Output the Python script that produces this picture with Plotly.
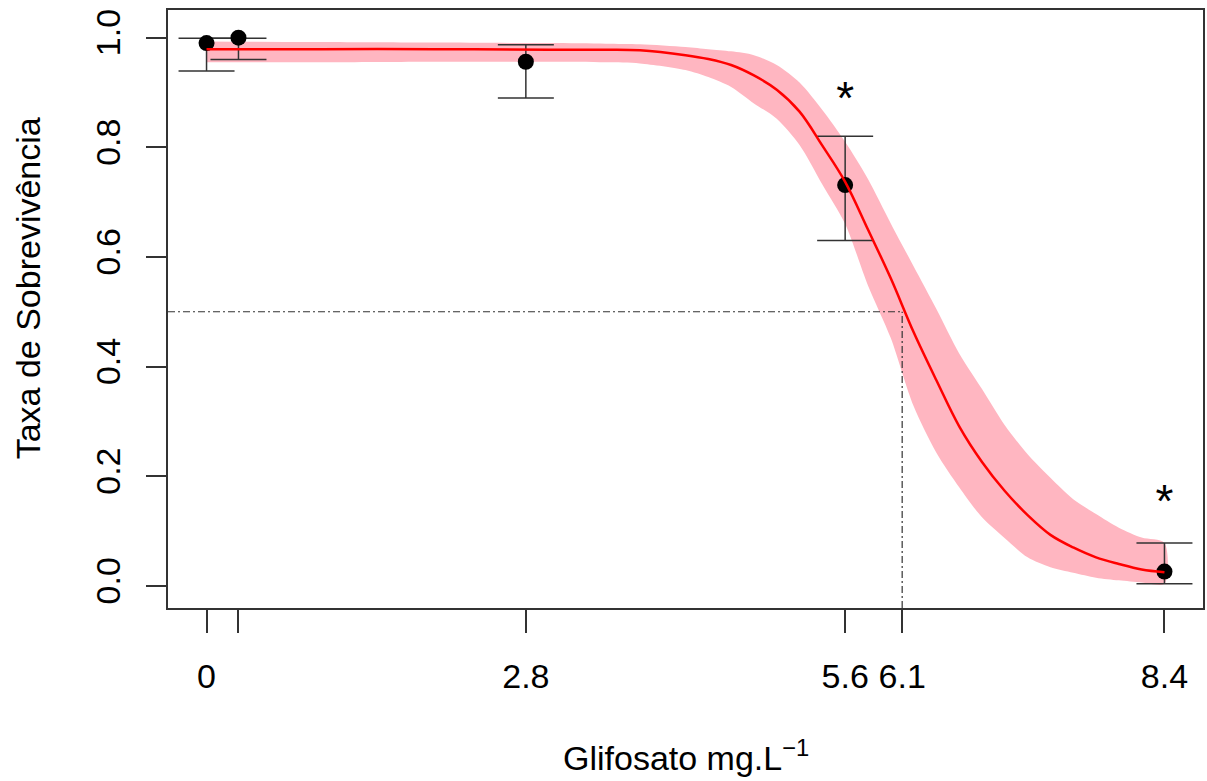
import plotly.graph_objects as go

# Observed data (means with error bars)
dose = [0, 0.28, 2.8, 5.6, 8.4]
survival = [0.990, 1.000, 0.956, 0.731, 0.026]
err_upper = [0.999, 0.999, 0.987, 0.820, 0.078]
err_lower = [0.939, 0.960, 0.890, 0.630, 0.004]

# Fitted curve and confidence band
fit_x = [0, 1, 2, 3, 3.5, 3.8, 4.2, 4.4, 4.6, 4.8, 5.0, 5.2, 5.4, 5.6, 5.8, 6.0,
         6.2, 6.4, 6.6, 6.8, 7.0, 7.2, 7.4, 7.6, 7.8, 8.0, 8.2, 8.4]
fit_y = [0.979, 0.979, 0.979, 0.978, 0.978, 0.977, 0.968, 0.961, 0.950, 0.931, 0.905,
         0.865, 0.803, 0.737, 0.650, 0.561, 0.463, 0.375, 0.291, 0.226, 0.173, 0.129,
         0.093, 0.070, 0.052, 0.040, 0.030, 0.025]
band_upper = [0.993, 0.992, 0.991, 0.990, 0.989, 0.988, 0.983, 0.979, 0.975, 0.968, 0.950,
              0.918, 0.868, 0.810, 0.742, 0.661, 0.583, 0.505, 0.424, 0.359, 0.293, 0.240,
              0.197, 0.158, 0.131, 0.106, 0.088, 0.078]
band_lower = [0.955, 0.955, 0.956, 0.956, 0.955, 0.953, 0.941, 0.928, 0.910, 0.880, 0.852,
              0.804, 0.732, 0.660, 0.548, 0.452, 0.328, 0.243, 0.180, 0.125, 0.087, 0.052,
              0.034, 0.024, 0.015, 0.010, 0.006, 0.004]

# Reference (LC50) and significance marks
lc50_x = 6.1
lc50_y = 0.5
star_x = [5.6, 8.4]
star_y = [0.881, 0.146]

x_tickvals = [0, 0.28, 2.8, 5.6, 6.1, 8.4]
x_ticktext = ["0", "", "2.8", "5.6", "6.1", "8.4"]
y_tickvals = [0, 0.2, 0.4, 0.6, 0.8, 1.0]
y_ticktext = ["0.0", "0.2", "0.4", "0.6", "0.8", "1.0"]

x_range = [-0.338, 8.738]
y_range = [-0.0404, 1.0504]

FONT = "Liberation Sans, Arial, sans-serif"
FS = 34
AX = "#333333"

fig = go.Figure()

fig.add_trace(go.Scatter(
    x=fit_x + fit_x[::-1], y=band_upper + band_lower[::-1],
    fill="toself", fillcolor="#FFB6C1", line=dict(width=0, shape="spline", smoothing=0.8),
    mode="lines", hoverinfo="skip", showlegend=False))

fig.add_trace(go.Scatter(
    x=dose, y=survival, mode="markers",
    marker=dict(color="black", size=16, symbol="circle"),
    error_y=dict(type="data", symmetric=False,
                 array=[u - s for u, s in zip(err_upper, survival)],
                 arrayminus=[s - l for s, l in zip(survival, err_lower)],
                 color=AX, thickness=1.5, width=28),
    showlegend=False))

fig.add_trace(go.Scatter(
    x=fit_x, y=fit_y, mode="lines", line=dict(color="red", width=2.5, shape="spline"),
    showlegend=False))

fig.add_trace(go.Scatter(
    x=star_x, y=star_y, mode="text", text=["*", "*"],
    textfont=dict(family=FONT, size=46, color="black"),
    textposition="middle center", showlegend=False))

dash = "7px,3px,2px,3px"
fig.add_shape(type="line", xref="x", yref="y", x0=x_range[0], x1=lc50_x, y0=lc50_y, y1=lc50_y,
              line=dict(color=AX, width=1.2, dash=dash))
fig.add_shape(type="line", xref="x", yref="y", x0=lc50_x, x1=lc50_x, y0=y_range[0], y1=lc50_y,
              line=dict(color=AX, width=1.2, dash=dash))

fig.update_xaxes(range=x_range, tickvals=x_tickvals, ticktext=x_ticktext,
                 ticks="outside", ticklen=23, tickwidth=1.5, tickcolor=AX,
                 showline=True, linecolor=AX, linewidth=1.5, mirror=True,
                 showgrid=False, zeroline=False, ticklabelstandoff=14,
                 tickfont=dict(family=FONT, size=FS, color="black"))
fig.update_yaxes(range=y_range, tickvals=y_tickvals, ticktext=y_ticktext,
                 ticks="outside", ticklen=20, tickwidth=1.5, tickcolor=AX,
                 showline=True, linecolor=AX, linewidth=1.5, mirror=True,
                 showgrid=False, zeroline=False, tickangle=-90, ticklabelstandoff=13,
                 tickfont=dict(family=FONT, size=FS, color="black"))

fig.add_annotation(text="Glifosato mg.L<sup>\u22121</sup>", xref="paper", yref="paper",
                   x=0.5, y=-0.247, xanchor="center", yanchor="middle", showarrow=False,
                   font=dict(family=FONT, size=FS, color="black"))
fig.add_annotation(text="Taxa de Sobrevivência", xref="paper", yref="paper",
                   x=-0.135, y=0.535, xanchor="center", yanchor="middle", showarrow=False,
                   textangle=-90, font=dict(family=FONT, size=FS, color="black"))

fig.update_layout(width=1207, height=781, margin=dict(l=168, r=2, t=10, b=173),
                  plot_bgcolor="white", paper_bgcolor="white", hovermode=False)

# remove the page's default body margin so the figure fills the window exactly
fig.write_html("out.html", config={"displayModeBar": False},
               post_script="document.body.style.margin='0';document.body.style.overflow='hidden';")
